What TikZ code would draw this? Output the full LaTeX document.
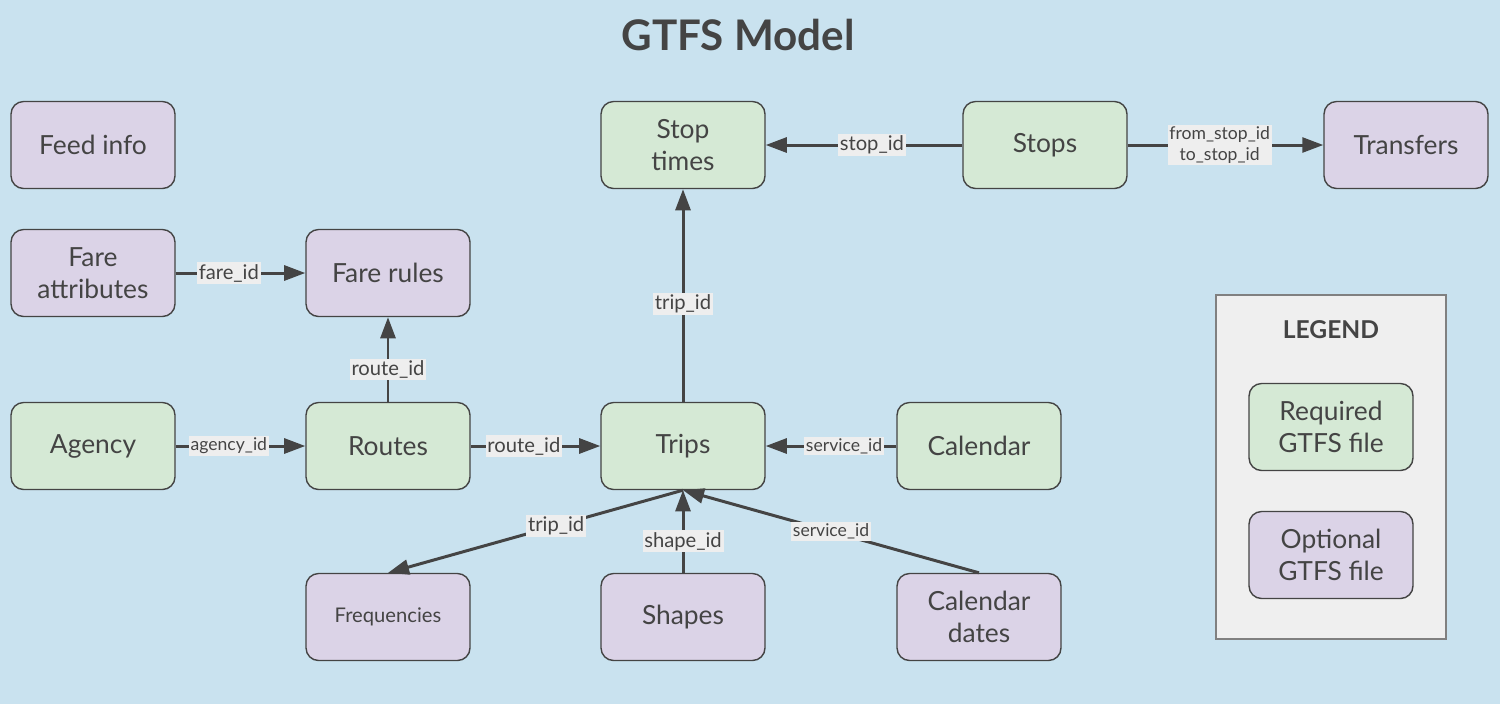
\documentclass[tikz,border=0pt]{standalone}
\usepackage{fontspec}
\setmainfont{Lato}
\usetikzlibrary{shapes, arrows.meta}

\definecolor{bgblue}{HTML}{C9E2EF}
\definecolor{reqgreen}{HTML}{D5E9D5}
\definecolor{optpurple}{HTML}{DBD3E7}
\definecolor{inkgray}{HTML}{444444}
\definecolor{tagbg}{HTML}{EEEEEE}
\definecolor{legendbg}{HTML}{EFEFEF}

\begin{document}
\begin{tikzpicture}[x=0.02cm, y=-0.02cm, text=inkgray,
    >={Triangle[length=12pt, width=8.5pt]}]
      \tikzstyle{required} = [
        rectangle,
        draw=inkgray,
        line width=0.8pt,
        fill=reqgreen,
        align=center,
        minimum width=3.28cm,
        minimum height=1.74cm,
        rounded corners=0.25cm,
        font=\fontsize{15}{18}\selectfont
      ]

      \tikzstyle{optional} = [
        required,
        fill=optpurple
      ]

      \tikzstyle{idtag} = [
        fill=tagbg,
        inner sep=1pt,
        font=\fontsize{11.5}{13}\selectfont
      ]

      \tikzstyle{smalltag} = [
        idtag,
        font=\fontsize{10}{12}\selectfont
      ]

      \tikzstyle{link} = [
        ->,
        draw=inkgray,
        line width=1.7pt
      ]

      \fill[bgblue] (0,0) rectangle (1500,704);
      \node[font=\bfseries\fontsize{24}{28}\selectfont] (title) at (738,35) {GTFS Model};

      \node[optional] (feedinfo) at (93,145) {Feed info};
      \node[optional] (fareattr) at (93,273) {Fare\\attributes};
      \node[optional] (farerules) at (388,273) {Fare rules};
      \node[required] (agency) at (93,446) {Agency};
      \node[required] (routes) at (388,446) {Routes};
      \node[required] (trips) at (683,446) {Trips};
      \node[required] (calendar) at (979,446) {Calendar};
      \node[required] (stoptimes) at (683,145) {Stop\\times};
      \node[required] (stops) at (1045,145) {Stops};
      \node[optional] (transfers) at (1406,145) {Transfers};
      \node[optional, font=\fontsize{11.5}{14}\selectfont] (frequencies) at (388,617) {Frequencies};
      \node[optional] (shapes) at (683,617) {Shapes};
      \node[optional] (caldates) at (979,617) {Calendar\\dates};

      % legend
      \node[draw=gray, line width=0.8pt, fill=legendbg, minimum width=4.6cm,
        minimum height=6.88cm] (legend) at (1331,467) {};
      \node[font=\bfseries\fontsize{14}{16}\selectfont] (legendtitle) at (1331,330) {LEGEND};
      \node[required] (reqkey) at (1331,427) {Required\\GTFS file};
      \node[optional] (optkey) at (1331,555) {Optional\\GTFS file};

      \draw[link] (fareattr) -- node[idtag, pos=0.41] {fare\_id} (farerules);
      \draw[link] (routes) -- node[idtag, pos=0.38] {route\_id} (farerules);
      \draw[link] (agency) -- node[smalltag, pos=0.41] {agency\_id} (routes);
      \draw[link] (routes) -- node[idtag, pos=0.41] {route\_id} (trips);
      \draw[link] (calendar) -- node[smalltag, pos=0.4] {service\_id} (trips);
      \draw[link] (trips) -- node[idtag, pos=0.46] {trip\_id} (stoptimes);
      \draw[link] (stops) -- node[idtag, pos=0.46] {stop\_id} (stoptimes);
      \draw[link] (stops) -- node[smalltag, pos=0.47, align=center] {from\_stop\_id\\to\_stop\_id} (transfers);
      \draw[link] (trips.south) -- node[idtag, pos=0.43] {trip\_id} (frequencies.north);
      \draw[link] (shapes) -- node[idtag, pos=0.38] {shape\_id} (trips);
      \draw[link] (caldates.north) -- node[smalltag, pos=0.5] {service\_id} (trips.south);
    \end{tikzpicture}
\end{document}
